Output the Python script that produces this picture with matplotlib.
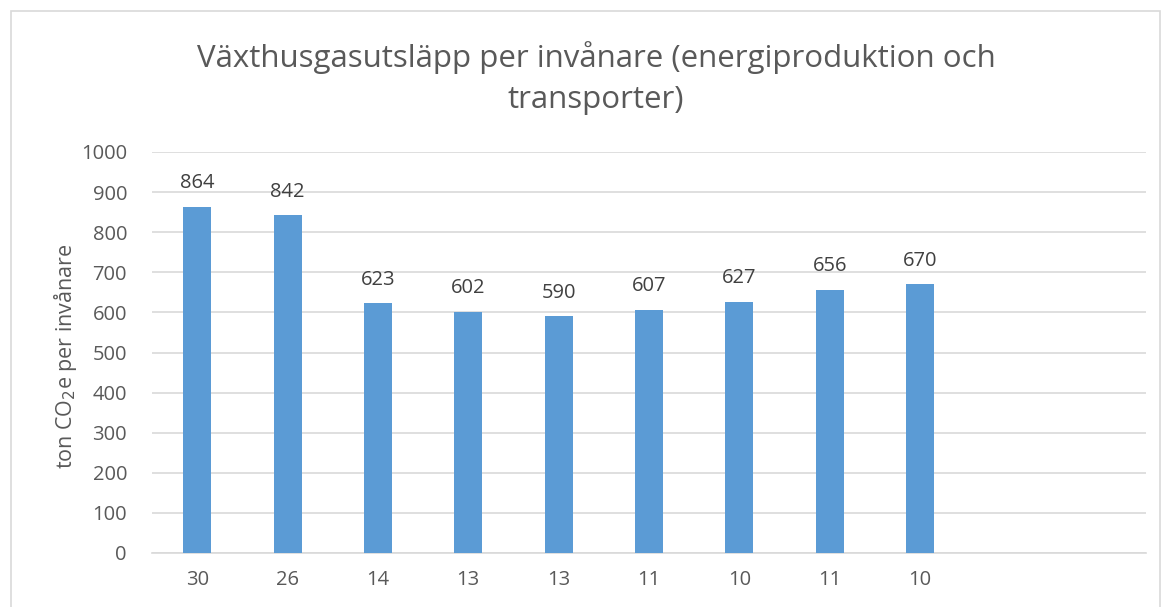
import matplotlib.pyplot as plt
from matplotlib.patches import Rectangle

# Chart data
categories = ['30', '26', '14', '13', '13', '11', '10', '11', '10', '', ' ']
values = [864, 842, 623, 602, 590, 607, 627, 656, 670]

bar_color = '#5B9BD5'
text_color = '#595959'
grid_color = '#D9D9D9'

plt.rcParams['font.family'] = ['Open Sans', 'DejaVu Sans']

fig = plt.figure(figsize=(11.62, 6.07), dpi=100)
ax = fig.add_axes([152 / 1162, 1 - 553 / 607, 994 / 1162, 401 / 607])

# Outer chart border
fig.patches.append(Rectangle((11 / 1162, -0.05), 1149 / 1162, 1.05 - 11 / 607,
                             transform=fig.transFigure, fill=False,
                             edgecolor=grid_color, linewidth=1.2))

x = list(range(len(categories)))
bars = ax.bar(x[:len(values)], values, width=0.31, color=bar_color, zorder=3)
for b, v in zip(bars, values):
    ax.text(b.get_x() + b.get_width() / 2, v + 34, str(v), ha='center',
            va='bottom', fontsize=14.5, color='#404040')

ax.set_xlim(-0.5, len(categories) - 0.5)
ax.set_ylim(0, 1000)
ax.set_yticks(range(0, 1001, 100))
ax.set_xticks(x)
ax.set_xticklabels(categories)
ax.tick_params(axis='both', length=0, labelsize=14.5, labelcolor=text_color)
ax.tick_params(axis='y', pad=18)
ax.tick_params(axis='x', pad=12)
ax.grid(axis='y', color=grid_color, linewidth=1.2, zorder=0)
for s in ['top', 'right', 'left']:
    ax.spines[s].set_visible(False)
ax.spines['bottom'].set_color(grid_color)
ax.spines['bottom'].set_linewidth(1.2)

ax.set_ylabel('ton CO$_2$e per invånare', fontsize=15.5, color=text_color, va='center')
ax.yaxis.set_label_coords(-0.0875, 0.49)

fig.text(596 / 1162, 1 - 78 / 607,
         'Växthusgasutsläpp per invånare (energiproduktion och\ntransporter)',
         ha='center', va='center', fontsize=22.5, color=text_color, linespacing=1.5)

fig.savefig('out.png', dpi=100)
